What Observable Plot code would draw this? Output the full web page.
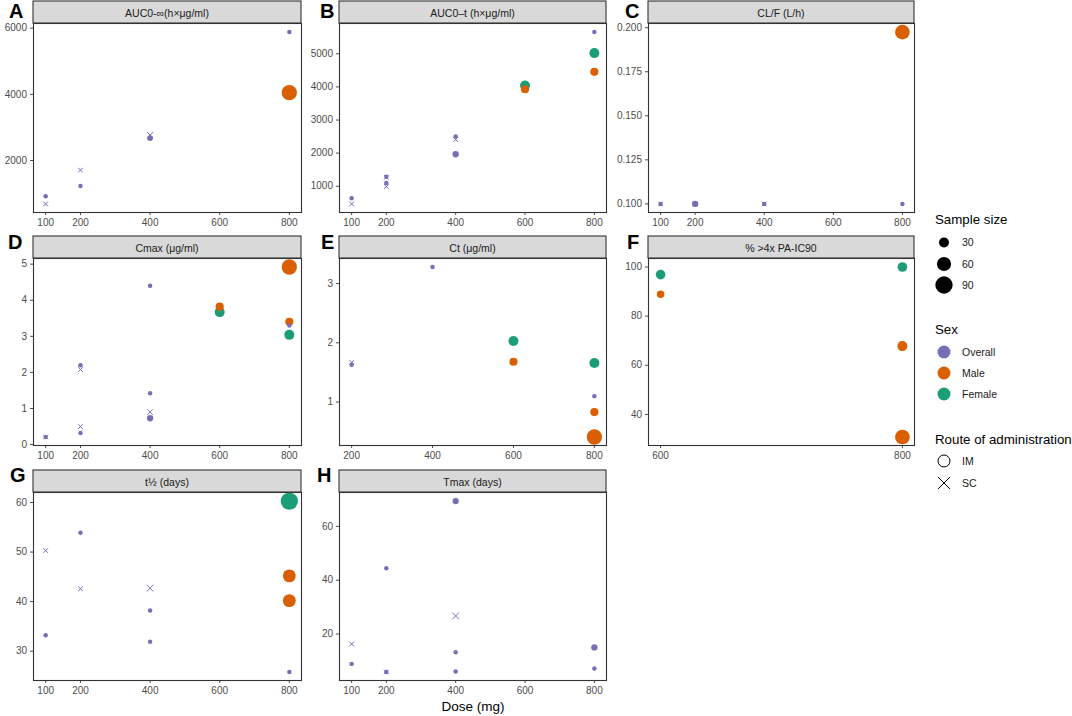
<!DOCTYPE html>
<html><head><meta charset="utf-8">
<script src="https://cdn.jsdelivr.net/npm/d3@7"></script>
<script src="https://cdn.jsdelivr.net/npm/@observablehq/plot@0.6"></script>
<style>
body{margin:0;background:#fff;font-family:"Liberation Sans",Arial,sans-serif;}
#fig{position:relative;width:1072px;height:716px;overflow:hidden;background:#fff;}
#fig svg{position:absolute;overflow:visible;}
</style></head><body><div id="fig"></div>
<script>
// ---- data ----
const panelLetters = ["A","B","C","D","E","F","G","H"];
const panelTitles = ["AUC0-∞(h×μg/ml)","AUC0–t (h×μg/ml)","CL/F (L/h)","Cmax (μg/ml)","Ct (μg/ml)","% >4x PA-IC90","t½ (days)","Tmax (days)"];
const sexLevels = ["Overall","Male","Female"];
const sexColors = ["#7570B3","#D95F02","#1B9E77"];
const routeLevels = ["IM","SC"];
const sizeLegend = [30,60,90];
const xTicksMain = [100,200,400,600,800];
const xTicksE = [200,400,600,800];
const xTicksF = [600,800];
const yTicksA = [2000,4000,6000];
const yTicksB = [1000,2000,3000,4000,5000];
const yTicksC = [0.100,0.125,0.150,0.175,0.200];
const yTicksD = [0,1,2,3,4,5];
const yTicksE = [1,2,3];
const yTicksF = [40,60,80,100];
const yTicksG = [30,40,50,60];
const yTicksH = [20,40,60];
// rows: [dose, value, sex, route, sample size]
const pointsA = [[100,920,"Overall","IM",6],[100,690,"Overall","SC",6],[200,1234,"Overall","IM",6],[200,1710,"Overall","SC",6],
  [400,2680,"Overall","IM",10],[400,2770,"Overall","SC",10],[800,5880,"Overall","IM",6],[800,4050,"Male","IM",70]];
const pointsB = [[100,637,"Overall","IM",6],[100,467,"Overall","SC",6],[200,1290,"Overall","IM",6],[200,1270,"Overall","SC",6],
  [200,1100,"Overall","IM",6],[200,990,"Overall","SC",6],[400,2500,"Overall","IM",6],[400,2410,"Overall","SC",6],
  [400,1967,"Overall","IM",12],[600,3930,"Male","IM",20],[600,4040,"Female","IM",30],[800,5655,"Overall","IM",6],
  [800,4456,"Male","IM",20],[800,5020,"Female","IM",30]];
const pointsC = [[100,0.100,"Overall","IM",6],[100,0.100,"Overall","SC",6],[200,0.100,"Overall","IM",12],[200,0.100,"Overall","SC",6],
  [400,0.100,"Overall","IM",6],[400,0.100,"Overall","SC",6],[800,0.100,"Overall","IM",6],[800,0.1975,"Male","IM",65]];
const pointsD = [[100,0.21,"Overall","IM",6],[100,0.21,"Overall","SC",6],[200,2.20,"Overall","IM",6],[200,2.08,"Overall","SC",6],
  [200,0.32,"Overall","IM",6],[200,0.50,"Overall","SC",6],[400,4.40,"Overall","IM",6],[400,1.42,"Overall","IM",6],
  [400,0.90,"Overall","SC",8],[400,0.73,"Overall","IM",12],[800,3.30,"Overall","IM",6],[600,3.82,"Male","IM",20],
  [800,4.92,"Male","IM",70],[800,3.40,"Male","IM",20],[600,3.67,"Female","IM",30],[800,3.04,"Female","IM",30]];
const pointsE = [[200,1.63,"Overall","IM",6],[200,1.67,"Overall","SC",6],[400,3.28,"Overall","IM",6],[800,1.10,"Overall","IM",6],
  [600,1.68,"Male","IM",20],[800,0.83,"Male","IM",20],[800,0.41,"Male","IM",70],[600,2.03,"Female","IM",30],[800,1.66,"Female","IM",30]];
const pointsF = [[600,88.9,"Male","IM",17],[800,67.8,"Male","IM",30],[800,30.8,"Male","IM",65],[600,96.9,"Female","IM",28],[800,100,"Female","IM",28]];
const pointsG = [[100,50.3,"Overall","SC",6],[100,33.2,"Overall","IM",6],[200,53.9,"Overall","IM",6],[200,42.6,"Overall","SC",6],
  [400,42.7,"Overall","SC",12],[400,38.2,"Overall","IM",6],[400,31.9,"Overall","IM",6],[800,25.8,"Overall","IM",6],
  [800,45.2,"Male","IM",50],[800,40.2,"Male","IM",50],[800,60.3,"Female","IM",90]];
const pointsH = [[100,16.3,"Overall","SC",6],[100,8.9,"Overall","IM",6],[200,44.4,"Overall","IM",6],[200,5.9,"Overall","IM",6],
  [200,5.9,"Overall","SC",6],[400,69.4,"Overall","IM",12],[400,26.7,"Overall","SC",12],[400,13.2,"Overall","IM",6],
  [400,6.1,"Overall","IM",6],[800,15.0,"Overall","IM",12],[800,7.2,"Overall","IM",6]];

const panelPoints = [pointsA,pointsB,pointsC,pointsD,pointsE,pointsF,pointsG,pointsH];
const panelXTicks = [xTicksMain,xTicksMain,xTicksMain,xTicksMain,xTicksE,xTicksF,xTicksMain,xTicksMain];
const panelYTicks = [yTicksA,yTicksB,yTicksC,yTicksD,yTicksE,yTicksF,yTicksG,yTicksH];

// ---- layout ----
const FONT = '"Liberation Sans",Arial,sans-serif';
const cols = [{left:33,width:268},{left:339,width:267},{left:648,width:266}];
const rows = [{strip:1,top:23,bottom:212},{strip:236,top:258,bottom:445},{strip:470,top:492,bottom:680}];
const letterPos = [[9,18],[320,18],[625,18],[8,249],[321,249],[627,249],[10,482],[317,482]];
const fig = document.getElementById("fig");
const colorOpt = {domain: sexLevels, range: sexColors};
const rOpt = {type:"sqrt", domain:[0,90], range:[0,8.66]};
const expand = arr => { const [a,b] = d3.extent(arr); const e = (b-a)*0.05; return [a-e,b+e]; };

panelPoints.forEach((rowsData, i) => {
  const col = cols[i%3], row = rows[Math.floor(i/3)];
  const pts = rowsData.map(([dose,value,sex,route,n]) => ({dose,value,sex,route,n}));
  const ml = 40, mr = 14, mt = 12, mb = 24;
  const chart = Plot.plot({
    width: col.width+ml+mr, height: row.bottom-row.top+mt+mb,
    marginLeft: ml, marginRight: mr, marginTop: mt, marginBottom: mb,
    x: {domain: expand(pts.map(d=>d.dose)), ticks: panelXTicks[i], tickSize: 3, tickPadding: 3.5, label: null},
    y: {domain: expand(pts.map(d=>d.value)), ticks: panelYTicks[i], tickSize: 3, tickPadding: 3.5, label: null,
        tickFormat: i === 2 ? d3.format(".3f") : d3.format("d")},
    color: colorOpt, r: rOpt,
    style: {fontSize: "10px", color: "#4d4d4d", fontFamily: FONT, background: "transparent", overflow: "visible"},
    marks: [
      Plot.frame({stroke: "#333", strokeWidth: 1.1}),
      Plot.dot(pts.filter(d => d.route === "IM"), {x: "dose", y: "value", r: "n", fill: "sex", symbol: "circle"}),
      Plot.dot(pts.filter(d => d.route === "SC"), {x: "dose", y: "value", r: "n", stroke: "sex", symbol: "times", strokeWidth: 1})
    ]
  });
  chart.style.left = (col.left-ml) + "px";
  chart.style.top = (row.top-mt) + "px";
  fig.appendChild(chart);
});

// ---- overlay: strips, tags, axis title, legends ----
const svg = d3.select(fig).append("svg").attr("width",1072).attr("height",716)
  .style("left","0px").style("top","0px").style("font-family",FONT);
panelTitles.forEach((t,i) => {
  const col = cols[i%3], row = rows[Math.floor(i/3)];
  svg.append("rect").attr("x",col.left).attr("y",row.strip).attr("width",col.width).attr("height",row.top-row.strip)
    .attr("fill","#D9D9D9").attr("stroke","#333").attr("stroke-width",1.1);
  svg.append("text").attr("x",col.left+col.width/2).attr("y",row.strip+15.5).attr("text-anchor","middle")
    .attr("font-size","10.5px").attr("fill","#1a1a1a").text(t);
  svg.append("text").attr("x",letterPos[i][0]).attr("y",letterPos[i][1]).attr("font-size","20px")
    .attr("font-weight","bold").attr("fill","#000").text(panelLetters[i]);
});
svg.append("text").attr("x",473).attr("y",711).attr("text-anchor","middle").attr("font-size","13.5px").attr("fill","#000").text("Dose (mg)");

const rScale = Plot.scale({r: rOpt});
const cScale = Plot.scale({color: colorOpt});
const LX = 935, DX = 944, TX = 962;
svg.append("text").attr("x",LX).attr("y",224).attr("font-size","13.3px").attr("fill","#000").text("Sample size");
sizeLegend.forEach((n,k) => {
  const y = [242.5,264,285][k];
  svg.append("circle").attr("cx",DX).attr("cy",y).attr("r",rScale.apply(n)).attr("fill","#000");
  svg.append("text").attr("x",TX).attr("y",y).attr("dy","0.35em").attr("font-size","10.5px").attr("fill","#1a1a1a").text(n);
});
svg.append("text").attr("x",LX).attr("y",334).attr("font-size","13.3px").attr("fill","#000").text("Sex");
sexLevels.forEach((s,k) => {
  const y = [352,373,394][k];
  svg.append("circle").attr("cx",DX).attr("cy",y).attr("r",6.5).attr("fill",cScale.apply(s));
  svg.append("text").attr("x",TX).attr("y",y).attr("dy","0.35em").attr("font-size","10.5px").attr("fill","#1a1a1a").text(s);
});
svg.append("text").attr("x",LX).attr("y",444).attr("font-size","13.3px").attr("fill","#000").text("Route of administration");
routeLevels.forEach((s,k) => {
  const y = [461,483][k];
  if (s === "IM") svg.append("circle").attr("cx",DX).attr("cy",y).attr("r",6).attr("fill","none").attr("stroke","#000").attr("stroke-width",1);
  else svg.append("path").attr("d",`M${DX-6},${y-6}L${DX+6},${y+6}M${DX-6},${y+6}L${DX+6},${y-6}`).attr("stroke","#000").attr("stroke-width",1);
  svg.append("text").attr("x",TX).attr("y",y).attr("dy","0.35em").attr("font-size","10.5px").attr("fill","#1a1a1a").text(s);
});
</script></body></html>
